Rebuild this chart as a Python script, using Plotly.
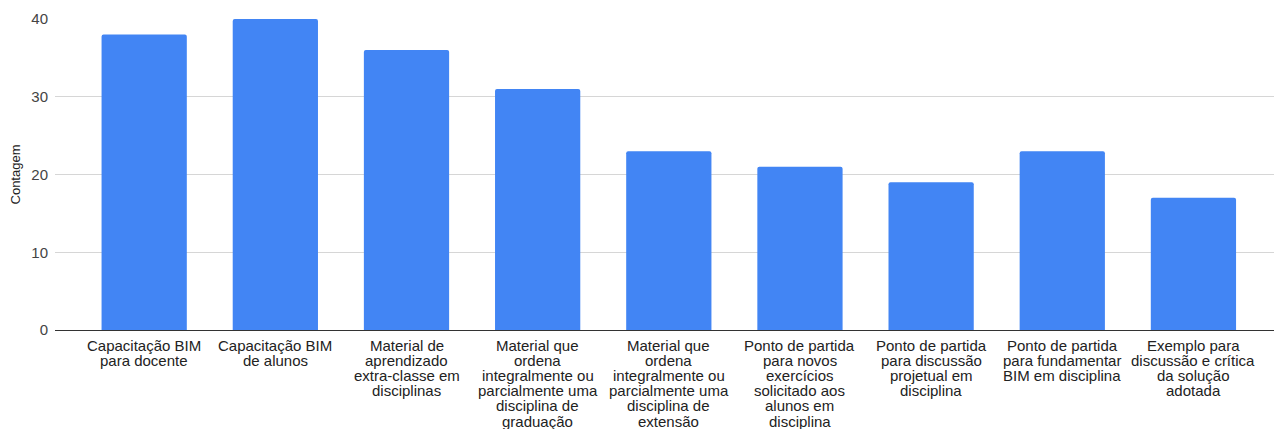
import plotly.graph_objects as go

categories = [
    "Capacitação BIM\npara docente",
    "Capacitação BIM\nde alunos",
    "Material de\naprendizado\nextra-classe em\ndisciplinas",
    "Material que\nordena\nintegralmente ou\nparcialmente uma\ndisciplina de\ngraduação",
    "Material que\nordena\nintegralmente ou\nparcialmente uma\ndisciplina de\nextensão",
    "Ponto de partida\npara novos\nexercícios\nsolicitado aos\nalunos em\ndisciplina",
    "Ponto de partida\npara discussão\nprojetual em\ndisciplina",
    "Ponto de partida\npara fundamentar\nBIM em disciplina",
    "Exemplo para\ndiscussão e crítica\nda solução\nadotada",
]
counts = [38, 40, 36, 31, 23, 21, 19, 23, 17]
y_ticks = [0, 10, 20, 30, 40]

x_idx = list(range(len(categories)))

fig = go.Figure(go.Bar(
    x=x_idx,
    y=counts,
    width=0.65,
    marker=dict(color="#4285F4", line=dict(width=0)),
    hovertext=[c.replace("\n", " ") for c in categories],
))

# category labels: one annotation per line for tight line spacing
LINE_GAP = 15.2
for i, cat in enumerate(categories):
    for k, line in enumerate(cat.split("\n")):
        fig.add_annotation(
            x=i, y=0, xref="x", yref="y",
            text=line, showarrow=False,
            xanchor="center", yanchor="middle",
            yshift=-(15 + LINE_GAP * k),
            font=dict(size=15, color="#222222"),
        )

fig.update_layout(
    width=1274, height=421,
    margin=dict(l=46, r=2, t=9, b=99),
    paper_bgcolor="white", plot_bgcolor="white",
    font=dict(family="Liberation Sans, Arial, sans-serif", color="#222222"),
    barcornerradius=2,
    showlegend=False,
    xaxis=dict(
        tickvals=x_idx,
        showticklabels=False,
        range=[-0.68, 8.66],
        showgrid=False,
        showline=True, linecolor="#333333", linewidth=1,
        ticks="",
        fixedrange=True,
    ),
    yaxis=dict(
        range=[0, 40],
        tickvals=y_ticks,
        tickfont=dict(size=15, color="#444444"),
        showgrid=True, gridcolor="#d6d6d6", gridwidth=1,
        zeroline=False,
        ticks="",
        ticklabelstandoff=6,
        title=dict(text="Contagem", font=dict(size=13, color="#222222"), standoff=12),
    ),
)

fig.write_html("out.html")
